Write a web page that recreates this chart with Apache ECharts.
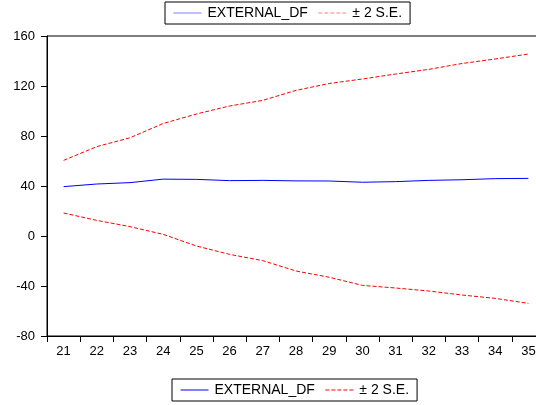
<!DOCTYPE html>
<html>
<head>
<meta charset="utf-8">
<script src="https://cdn.jsdelivr.net/npm/echarts@6/dist/echarts.min.js"></script>
<style>
html,body{margin:0;padding:0;background:#fff;}
#c{width:536px;height:405px;}
</style>
</head>
<body>
<div id="c"></div>
<script>
var categories = ['21','22','23','24','25','26','27','28','29','30','31','32','33','34','35'];
var externalDf = [39.5, 41.6, 42.7, 45.5, 45.3, 44.3, 44.5, 44.1, 44.0, 43.0, 43.5, 44.5, 45.0, 45.9, 46.1];
var upperSE = [60.5, 71.5, 78.6, 90.0, 97.6, 104.0, 108.5, 116.5, 122.0, 125.6, 129.6, 133.3, 138.0, 141.6, 145.6];
var lowerSE = [18.4, 12.5, 7.5, 1.3, -8.0, -14.7, -19.7, -28.0, -33.0, -39.5, -41.6, -44.0, -47.2, -49.9, -53.9];
var yTicks = {min: -80, max: 160, interval: 40};

var FONT = 'Liberation Sans, Arial, sans-serif';
var chart = echarts.init(document.getElementById('c'), null, {renderer: 'canvas'});

function legendCfg(extra) {
  var base = {
    data: ['EXTERNAL_DF', '± 2 S.E.'],
    orient: 'horizontal',
    itemWidth: 28,
    itemHeight: 10,
    itemGap: 10,
    padding: [4, 8, 4, 8],
    borderColor: '#000',
    borderWidth: 1,
    backgroundColor: '#fff',
    selectedMode: false,
    itemStyle: {opacity: 0},
    textStyle: {fontFamily: FONT, fontSize: 14, color: '#000', padding: [0, 0, 0, 1]}
  };
  for (var k in extra) base[k] = extra[k];
  return base;
}

chart.setOption({
  animation: false,
  backgroundColor: '#fff',
  grid: {
    left: 47, top: 36, right: -9, bottom: 69,
    outerBoundsMode: 'none',
    containLabel: false,
    show: true, borderColor: '#000', borderWidth: 1, backgroundColor: 'transparent'
  },
  legend: [
    legendCfg({left: 165, top: 2, lineStyle: {opacity: 0.5, width: 1}}),
    legendCfg({left: 172, top: 379, lineStyle: {width: 1}})
  ],
  xAxis: {
    type: 'category',
    data: categories,
    boundaryGap: true,
    axisLine: {show: true, onZero: false, lineStyle: {color: '#000', width: 1}},
    axisTick: {show: true, inside: false, length: 6, lineStyle: {color: '#000'}},
    axisLabel: {fontFamily: FONT, fontSize: 13, color: '#000', margin: 9},
    splitLine: {show: false}
  },
  yAxis: {
    type: 'value',
    min: yTicks.min, max: yTicks.max, interval: yTicks.interval,
    axisLine: {show: true, lineStyle: {color: '#000', width: 1}},
    axisTick: {show: true, inside: false, length: 6, lineStyle: {color: '#000'}},
    axisLabel: {fontFamily: FONT, fontSize: 13, color: '#000', margin: 12},
    splitLine: {show: false}
  },
  series: [
    {
      name: 'EXTERNAL_DF', type: 'line', data: externalDf,
      symbol: 'none', color: '#0000ff',
      lineStyle: {color: '#0000ff', width: 1}
    },
    {
      name: '± 2 S.E.', type: 'line', data: upperSE,
      symbol: 'none', color: '#ff0000',
      lineStyle: {color: '#ff0000', width: 1, type: [4, 2]}
    },
    {
      name: '± 2 S.E.', type: 'line', data: lowerSE,
      symbol: 'none', color: '#ff0000',
      lineStyle: {color: '#ff0000', width: 1, type: [4, 2]}
    }
  ]
});
</script>
</body>
</html>
